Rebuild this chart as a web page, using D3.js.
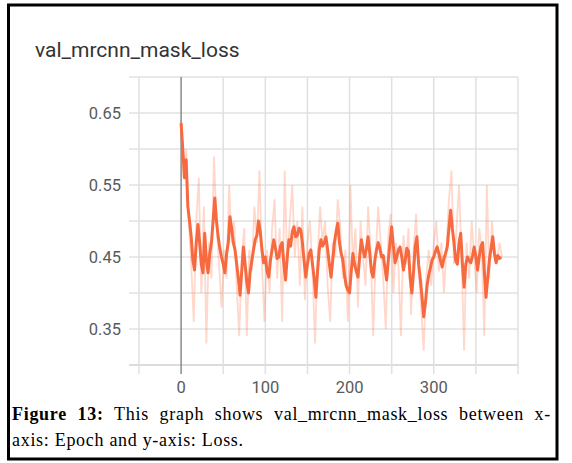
<!DOCTYPE html>
<html>
<head>
<meta charset="utf-8">
<script src="https://cdn.jsdelivr.net/npm/d3@7"></script>
<style>
  body { margin: 0; background: #fff; }
  svg { display: block; }
</style>
</head>
<body>
<svg id="chart" width="572" height="463"></svg>
<script>
// data
const title = 'val_mrcnn_mask_loss';
const yTicks = [0.35, 0.45, 0.55, 0.65];
const yGrid = [0.30, 0.35, 0.40, 0.45, 0.50, 0.55, 0.60, 0.65, 0.70];
const xTicks = [0, 100, 200, 300];
const xGrid = [-50, 0, 50, 100, 150, 200, 250, 300, 350, 400];

// raw values, one every 3 epochs
const rawStep = 3;
const rawLoss = [
  0.64, 0.56, 0.60, 0.50, 0.44, 0.36, 0.50, 0.56, 0.40, 0.52, 0.33, 0.47, 0.42, 0.59,
  0.50, 0.44, 0.38, 0.46, 0.42, 0.55, 0.47, 0.50, 0.41, 0.34, 0.45, 0.49, 0.34, 0.46,
  0.43, 0.52, 0.47, 0.57, 0.44, 0.36, 0.46, 0.40, 0.49, 0.53, 0.42, 0.49, 0.36, 0.57,
  0.44, 0.50, 0.55, 0.45, 0.50, 0.41, 0.52, 0.39, 0.47, 0.50, 0.43, 0.33, 0.45, 0.52,
  0.47, 0.50, 0.41, 0.36, 0.47, 0.45, 0.53, 0.49, 0.42, 0.46, 0.36, 0.55, 0.44, 0.49,
  0.38, 0.50, 0.45, 0.41, 0.52, 0.46, 0.34, 0.45, 0.52, 0.47, 0.42, 0.35, 0.48, 0.51,
  0.40, 0.47, 0.44, 0.34, 0.48, 0.44, 0.49, 0.37, 0.46, 0.51, 0.43, 0.38, 0.32, 0.42,
  0.46, 0.41, 0.47, 0.50, 0.43, 0.47, 0.40, 0.46, 0.53, 0.57, 0.44, 0.49, 0.55, 0.45,
  0.32, 0.47, 0.42, 0.50, 0.45, 0.40, 0.49, 0.46, 0.34, 0.55, 0.42, 0.50, 0.46, 0.44,
  0.47, 0.45
];

// smoothed values, one every 2 epochs
const smoothStep = 2;
const smoothLoss = [
  0.636, 0.600, 0.560, 0.585, 0.520, 0.500, 0.478, 0.445, 0.432, 0.470,
  0.495, 0.470, 0.440, 0.428, 0.483, 0.445, 0.428, 0.455, 0.470, 0.500,
  0.532, 0.500, 0.478, 0.462, 0.450, 0.440, 0.428, 0.455, 0.470, 0.506,
  0.490, 0.470, 0.460, 0.440, 0.420, 0.397, 0.430, 0.464, 0.440, 0.415,
  0.400, 0.430, 0.445, 0.460, 0.474, 0.480, 0.500, 0.485, 0.460, 0.442,
  0.450, 0.430, 0.422, 0.445, 0.460, 0.474, 0.462, 0.448, 0.450, 0.465,
  0.470, 0.440, 0.418, 0.450, 0.474, 0.465, 0.485, 0.492, 0.478, 0.480,
  0.490, 0.488, 0.470, 0.445, 0.422, 0.440, 0.455, 0.460, 0.440, 0.420,
  0.394, 0.430, 0.460, 0.474, 0.465, 0.470, 0.478, 0.460, 0.440, 0.422,
  0.445, 0.470, 0.485, 0.497, 0.470, 0.455, 0.446, 0.425, 0.410, 0.404,
  0.400, 0.430, 0.455, 0.440, 0.430, 0.422, 0.450, 0.474, 0.460, 0.450,
  0.462, 0.478, 0.455, 0.430, 0.422, 0.445, 0.460, 0.470, 0.462, 0.450,
  0.452, 0.435, 0.418, 0.445, 0.470, 0.492, 0.465, 0.442, 0.450, 0.460,
  0.464, 0.450, 0.432, 0.445, 0.462, 0.458, 0.420, 0.400, 0.430, 0.465,
  0.478, 0.440, 0.420, 0.395, 0.367, 0.385, 0.410, 0.425, 0.435, 0.446,
  0.450, 0.458, 0.464, 0.455, 0.445, 0.436, 0.448, 0.455, 0.464, 0.490,
  0.515, 0.490, 0.470, 0.445, 0.440, 0.470, 0.483, 0.440, 0.408, 0.440,
  0.450, 0.445, 0.442, 0.452, 0.464, 0.450, 0.432, 0.450, 0.465, 0.470,
  0.430, 0.394, 0.420, 0.446, 0.462, 0.478, 0.455, 0.442, 0.452, 0.448,
  0.450
];

const captionBold = 'Figure 13:';
const captionLine1 = ' This graph shows val_mrcnn_mask_loss between x-';
const captionLine2 = 'axis: Epoch and y-axis: Loss.';

const svg = d3.select('#chart');

// frame
svg.append('rect')
  .attr('x', 8.5).attr('y', 5)
  .attr('width', 548.5).attr('height', 454)
  .attr('fill', '#fff')
  .attr('stroke', '#000')
  .attr('stroke-width', 3);

svg.append('text')
  .attr('x', 35).attr('y', 57)
  .attr('font-family', 'Roboto, sans-serif')
  .attr('font-size', 21)
  .attr('fill', '#333')
  .text(title);

let x = d3.scaleLinear().domain([-50, 400]).range([139, 518]);
let y = d3.scaleLinear().domain([0.30, 0.70]).range([365, 77]);

let grid = svg.append('g');

grid.selectAll('line.h').data(yGrid).enter()
  .append('line')
  .attr('class', 'h')
  .attr('x1', 129).attr('x2', 518)
  .attr('y1', function(d){ return y(d); })
  .attr('y2', function(d){ return y(d); })
  .attr('stroke', function(d){ return d == 0.30 ? '#d0d0d0' : '#e2e2e2'; })
  .attr('stroke-width', 1.5);

grid.selectAll('line.v').data(xGrid).enter()
  .append('line')
  .attr('class', 'v')
  .attr('y1', 77).attr('y2', 374)
  .attr('x1', function(d){ return x(d); })
  .attr('x2', function(d){ return x(d); })
  .attr('stroke', function(d){ return d == 0 ? '#8a8a8a' : '#e0e0e0'; })
  .attr('stroke-width', 1.5);

svg.selectAll('text.ytick').data(yTicks).enter()
  .append('text')
  .attr('class', 'ytick')
  .attr('x', 121)
  .attr('y', function(d){ return y(d); })
  .attr('dy', '0.35em')
  .attr('text-anchor', 'end')
  .attr('font-family', 'Roboto, sans-serif')
  .attr('font-size', 16.5)
  .attr('fill', '#5a5a5a')
  .text(function(d){ return d.toFixed(2); });

svg.selectAll('text.xtick').data(xTicks).enter()
  .append('text')
  .attr('class', 'xtick')
  .attr('x', function(d){ return x(d); })
  .attr('y', 393)
  .attr('text-anchor', 'middle')
  .attr('font-family', 'Roboto, sans-serif')
  .attr('font-size', 16.5)
  .attr('fill', '#5a5a5a')
  .text(function(d){ return d; });

let rawLine = d3.line()
  .x(function(d, i){ return x(i * rawStep); })
  .y(function(d){ return y(d); });

svg.append('path')
  .datum(rawLoss)
  .attr('fill', 'none')
  .attr('stroke', '#ff7043')
  .attr('stroke-opacity', 0.28)
  .attr('stroke-width', 1.8)
  .attr('d', rawLine);

let smoothLine = d3.line()
  .x(function(d, i){ return x(i * smoothStep); })
  .y(function(d){ return y(d); });

svg.append('path')
  .datum(smoothLoss)
  .attr('fill', 'none')
  .attr('stroke', '#f76a40')
  .attr('stroke-width', 3)
  .attr('stroke-linejoin', 'round')
  .attr('d', smoothLine);

// caption, first line justified by stretching the word gaps
let cap1 = svg.append('text')
  .attr('x', 12).attr('y', 420)
  .attr('font-family', 'Liberation Serif, serif')
  .attr('font-size', 18)
  .attr('letter-spacing', 0.7)
  .attr('fill', '#000');
cap1.append('tspan').attr('font-weight', 'bold').text(captionBold);
cap1.append('tspan').text(captionLine1);

let natural = cap1.node().getComputedTextLength();
let gaps = (captionBold + captionLine1).split(' ').length - 1;
cap1.attr('word-spacing', Math.max(0, (539 - natural) / gaps));

svg.append('text')
  .attr('x', 12).attr('y', 446)
  .attr('font-family', 'Liberation Serif, serif')
  .attr('font-size', 18)
  .attr('letter-spacing', 0.7)
  .attr('fill', '#000')
  .text(captionLine2);
</script>
</body>
</html>
